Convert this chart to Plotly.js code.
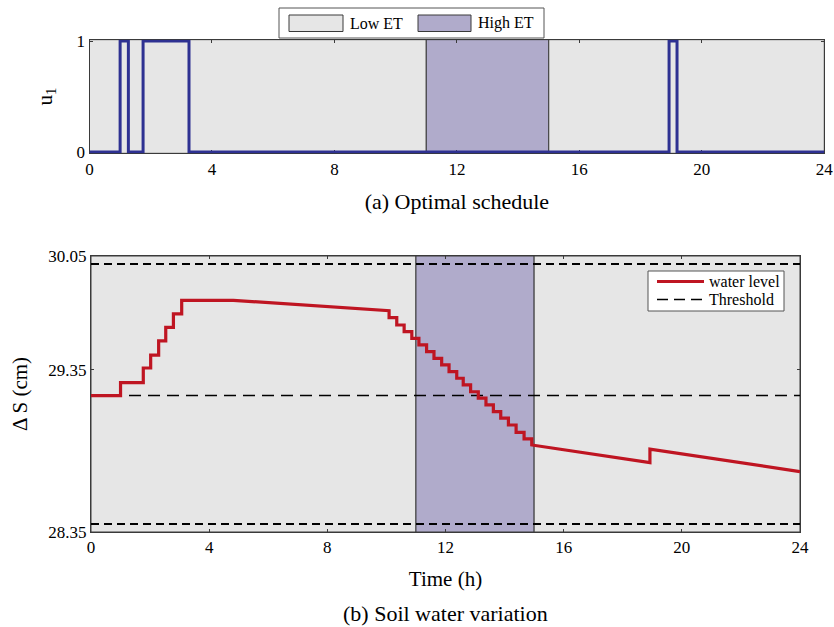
<!DOCTYPE html>
<html>
<head>
<meta charset="utf-8">
<script src="https://cdn.plot.ly/plotly-3.0.1.min.js"></script>
<style>html,body{margin:0;padding:0;background:#fff;}#chart{width:834px;height:627px;}</style>
</head>
<body>
<div id="chart"></div>
<script>
// ---- Data ----
// ET periods (hours)
const etStart = [0, 11, 15];
const etEnd   = [11, 15, 24];
const etLevel = ['Low ET', 'High ET', 'Low ET'];

// Optimal schedule u1 (step function, value holds until next time)
const uTime  = [0, 1.00, 1.27, 1.75, 3.25, 18.93, 19.19, 24];
const uValue = [0, 1, 0, 1, 0, 1, 0, 0];

// Soil water level (cm) – duplicated times mark vertical steps
const wlTime = [0, 1.00, 1.00, 1.77, 1.77, 2.02, 2.02, 2.29, 2.29, 2.53, 2.53, 2.79, 2.79, 3.07, 3.07, 4.82,
  10.09, 10.09, 10.35, 10.35, 10.60, 10.60, 10.86, 10.86, 11.10, 11.10, 11.36, 11.36, 11.61, 11.61,
  11.87, 11.87, 12.12, 12.12, 12.38, 12.38, 12.60, 12.60, 12.85, 12.85, 13.11, 13.11, 13.37, 13.37,
  13.62, 13.62, 13.87, 13.87, 14.13, 14.13, 14.39, 14.39, 14.66, 14.66, 14.92, 14.92,
  18.92, 18.92, 24];
const wlLevel = [29.19, 29.19, 29.27, 29.27, 29.36, 29.36, 29.44, 29.44, 29.527, 29.527, 29.61, 29.61, 29.693, 29.693, 29.777, 29.777,
  29.713, 29.670, 29.670, 29.625, 29.625, 29.584, 29.584, 29.543, 29.543, 29.502, 29.502, 29.461, 29.461, 29.420,
  29.420, 29.379, 29.379, 29.338, 29.338, 29.297, 29.297, 29.256, 29.256, 29.214, 29.214, 29.174, 29.174, 29.133,
  29.133, 29.091, 29.091, 29.051, 29.051, 29.009, 29.009, 28.964, 28.964, 28.923, 28.923, 28.886,
  28.777, 28.860, 28.722];

// Thresholds (cm)
const thresholdBounds = [28.40, 30.00];
const thresholdMid = 29.19;

// Tick labels
const xTicks = [0, 4, 8, 12, 16, 20, 24];
const uTicks = [0, 1];
const sTicks = [28.35, 29.35, 30.05];
const sTickText = ['28.35', '29.35', '30.05'];

// Legend labels
const etLegend = ['Low ET', 'High ET'];
const seriesLegend = ['water level', 'Threshold'];

// ---- Styling ----
const FONT = 'Liberation Serif';
const LOW = '#e6e6e6', HIGH = '#b0abcb', EDGE = '#3a3a3a';
const BLUE = '#2e3192', RED = '#bf1522';
const W = 834, H = 627;
const px = v => v / W, py = v => 1 - v / H;

const traces = [
  { x: uTime, y: uValue, xaxis: 'x', yaxis: 'y', mode: 'lines', line: { shape: 'hv', color: BLUE, width: 3 },
    name: 'u1', showlegend: false },
  { x: [0, 24, null, 0, 24], y: [thresholdBounds[0], thresholdBounds[0], null, thresholdBounds[1], thresholdBounds[1]],
    xaxis: 'x2', yaxis: 'y2', mode: 'lines', line: { color: '#000', width: 2, dash: '8px,5px' },
    showlegend: false, name: 'Threshold' },
  { x: [0, 24], y: [thresholdMid, thresholdMid], xaxis: 'x2', yaxis: 'y2', mode: 'lines',
    line: { color: '#000', width: 1.5, dash: '12px,7px' }, name: 'Threshold', showlegend: false },
  { x: wlTime, y: wlLevel, xaxis: 'x2', yaxis: 'y2', mode: 'lines', line: { color: RED, width: 3.2 },
    name: 'water level', showlegend: false }
];

const shapes = [];
for (let i = 0; i < etStart.length; i++) {
  const col = etLevel[i] === 'High ET' ? HIGH : LOW;
  ['x', 'x2'].forEach((xr, k) => {
    shapes.push({ type: 'rect', layer: 'below', xref: xr, yref: (k === 0 ? 'y' : 'y2') + ' domain',
      x0: etStart[i], x1: etEnd[i], y0: 0, y1: 1, fillcolor: col,
      line: { color: EDGE, width: 1 } });
  });
}
// Top legend (Low ET / High ET)
shapes.push({ type: 'rect', xref: 'paper', yref: 'paper', x0: px(279), x1: px(544), y0: py(38), y1: py(8),
  fillcolor: '#fff', line: { color: '#555', width: 1 } });
shapes.push({ type: 'rect', xref: 'paper', yref: 'paper', x0: px(289), x1: px(343), y0: py(31.5), y1: py(15),
  fillcolor: LOW, line: { color: EDGE, width: 1 } });
shapes.push({ type: 'rect', xref: 'paper', yref: 'paper', x0: px(418), x1: px(471), y0: py(31.5), y1: py(15),
  fillcolor: HIGH, line: { color: EDGE, width: 1 } });
// Bottom legend (water level / Threshold)
shapes.push({ type: 'rect', xref: 'paper', yref: 'paper', x0: px(648), x1: px(784), y0: py(311), y1: py(271),
  fillcolor: '#fff', line: { color: '#555', width: 1 } });
shapes.push({ type: 'line', xref: 'paper', yref: 'paper', x0: px(657), x1: px(704), y0: py(281.5), y1: py(281.5),
  line: { color: RED, width: 3 } });
shapes.push({ type: 'line', xref: 'paper', yref: 'paper', x0: px(657), x1: px(704), y0: py(299.5), y1: py(299.5),
  line: { color: '#000', width: 1.5, dash: '11px,6px' } });

const txt = (text, x, y, size, anchor) => ({ text: text, xref: 'paper', yref: 'paper', x: px(x), y: py(y),
  xanchor: anchor || 'left', yanchor: 'middle', showarrow: false, font: { family: FONT, size: size, color: '#000' } });

const annotations = [
  txt(etLegend[0], 348, 23.5, 16),
  txt(etLegend[1], 476, 23.5, 16),
  txt(seriesLegend[0], 707, 281, 16),
  txt(seriesLegend[1], 707, 299, 16),
  txt('(b) Soil water variation', 445, 613, 22, 'center')
];

const axBase = { showline: true, linecolor: EDGE, linewidth: 1, mirror: 'ticks', ticks: 'inside', ticklen: 3,
  tickcolor: EDGE, showgrid: false, zeroline: false, layer: 'below traces',
  tickfont: { family: FONT, size: 17, color: '#000' }, automargin: false, fixedrange: true };

const layout = {
  width: W, height: H,
  margin: { l: 0, r: 0, t: 0, b: 0 },
  paper_bgcolor: '#fff', plot_bgcolor: LOW,
  font: { family: FONT, color: '#000' },
  showlegend: false,
  xaxis: Object.assign({}, axBase, { domain: [px(89.5), px(824.3)], range: [0, 24], tickvals: xTicks, anchor: 'y',
    title: { text: '(a) Optimal schedule', font: { family: FONT, size: 22 }, standoff: 15 } }),
  yaxis: Object.assign({}, axBase, { domain: [py(153.33), py(39.67)], range: [-0.012, 1.012], tickvals: uTicks, anchor: 'x',
    title: { text: 'u<sub>1</sub>', font: { family: FONT, size: 21 }, standoff: 18 } }),
  xaxis2: Object.assign({}, axBase, { domain: [px(91), px(800)], range: [0, 24], tickvals: xTicks, anchor: 'y2',
    title: { text: 'Time (h)', font: { family: FONT, size: 21 }, standoff: 14 } }),
  yaxis2: Object.assign({}, axBase, { domain: [py(532), py(256)], range: [28.35, 30.05], tickvals: sTicks, ticktext: sTickText, anchor: 'x2',
    title: { text: 'Δ S (cm)', font: { family: FONT, size: 21 }, standoff: 14 } }),
  shapes: shapes,
  annotations: annotations
};

Plotly.newPlot('chart', traces, layout, { displayModeBar: false, staticPlot: true });
</script>
</body>
</html>
